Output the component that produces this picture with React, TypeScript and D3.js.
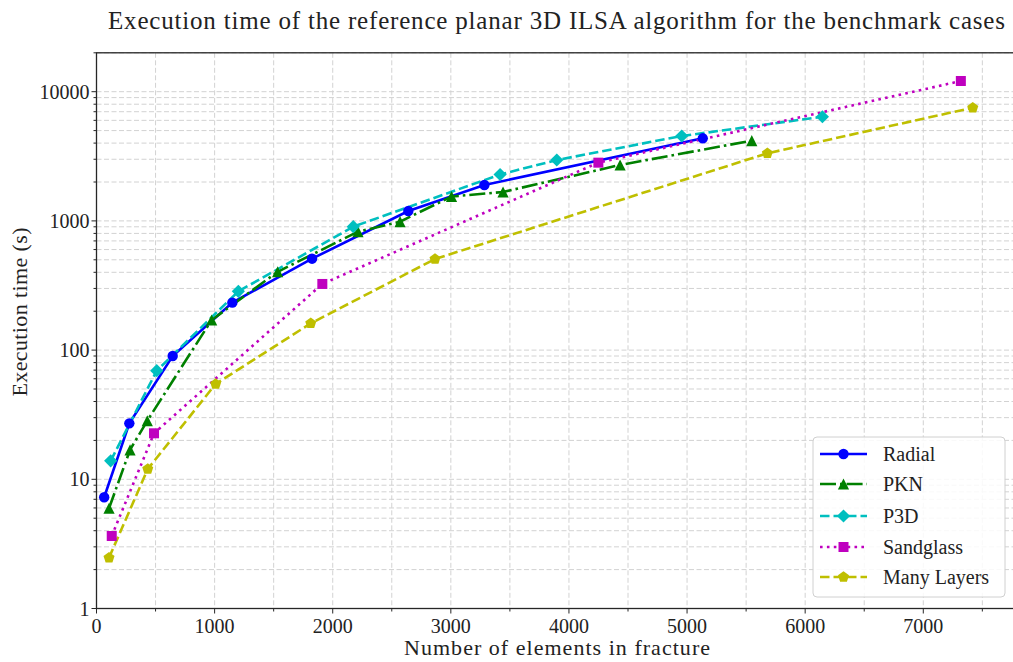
import React from "react";
import * as d3 from "d3";

const radialX = [65, 278, 645, 1150, 1825, 2640, 3284, 5133];
const radialY = [7.26, 27.1, 90, 233, 510, 1193, 1897, 4356];

const pknX = [106, 284, 430, 975, 1534, 2214, 2570, 3006, 3442, 4433, 5548];
const pknY = [5.97, 16.9, 28.4, 171, 404, 825, 986, 1545, 1674, 2709, 4178];

const p3dX = [120, 510, 1201, 2174, 3417, 3897, 4955, 6146];
const p3dY = [13.9, 69.3, 285, 902, 2286, 2960, 4540, 6400];

const sandX = [129, 487, 1912, 4249, 7318];
const sandY = [3.64, 22.7, 325, 2823, 12100];

const manyX = [106, 434, 1009, 1814, 2866, 5680, 7419];
const manyY = [2.47, 12.0, 54.7, 161, 507, 3336, 7516];

const xTicks = [0, 1000, 2000, 3000, 4000, 5000, 6000, 7000];
const yTicks = [1, 10, 100, 1000, 10000];

const seriesNames = ["Radial", "PKN", "P3D", "Sandglass", "Many Layers"];

const W = 1013;
const H = 662;
const M = { left: 96.5, top: 52.8, right: 1016, bottom: 608.5 };

const FONT = "'Liberation Serif', 'Times New Roman', serif";

type Series = {
  name: string;
  xs: number[];
  ys: number[];
  color: string;
  dash: string;
  marker: "circle" | "triangle" | "diamond" | "square" | "pentagon";
};

const series: Series[] = [
  { name: seriesNames[0], xs: radialX, ys: radialY, color: "#0000ff", dash: "none", marker: "circle" },
  { name: seriesNames[1], xs: pknX, ys: pknY, color: "#008000", dash: "16,4,2.6,4", marker: "triangle" },
  { name: seriesNames[2], xs: p3dX, ys: p3dY, color: "#00bfbf", dash: "9.5,4", marker: "diamond" },
  { name: seriesNames[3], xs: sandX, ys: sandY, color: "#bf00bf", dash: "2.6,4.3", marker: "square" },
  { name: seriesNames[4], xs: manyX, ys: manyY, color: "#bfbf00", dash: "9.5,4", marker: "pentagon" },
];

function Marker({ kind, x, y, color }: { kind: Series["marker"]; x: number; y: number; color: string }) {
  const r = 5.2;
  if (kind === "circle") return <circle cx={x} cy={y} r={r} fill={color} />;
  if (kind === "square") return <rect x={x - 5} y={y - 5} width={10} height={10} fill={color} />;
  if (kind === "diamond") {
    const s = 6.6;
    return <path d={`M${x},${y - s}L${x + s},${y}L${x},${y + s}L${x - s},${y}Z`} fill={color} />;
  }
  if (kind === "triangle") {
    const s = 5.6;
    return <path d={`M${x},${y - s}L${x + s},${y + s}L${x - s},${y + s}Z`} fill={color} />;
  }
  const pts: string[] = [];
  const s = 5.8;
  for (let i = 0; i < 5; i++) {
    const a = -Math.PI / 2 + (i * 2 * Math.PI) / 5;
    pts.push(`${x + s * Math.cos(a)},${y + s * Math.sin(a)}`);
  }
  return <path d={`M${pts.join("L")}Z`} fill={color} />;
}

export default function App() {
  const x = d3.scaleLinear().domain([0, 7785]).range([M.left, M.right]);
  const y = d3.scaleLog().domain([1, 20000]).range([M.bottom, M.top]);

  const xGrid = d3.range(0, 7785, 500);
  const yMinor: number[] = [];
  for (let d = 1; d <= 10000; d *= 10) {
    for (let k = 2; k <= 9; k++) if (d * k <= 20000) yMinor.push(d * k);
  }

  const line = d3
    .line<[number, number]>()
    .x((d) => x(d[0]))
    .y((d) => y(d[1]));

  const legendX = 813;
  const legendY = 437;
  const legendRowY = [454, 484, 516, 547, 577];

  return (
    <svg
      width={W}
      height={H}
      style={{ position: "absolute", left: 0, top: 0, display: "block", background: "#fff" }}
      fontFamily={FONT}
    >
      <rect x={0} y={0} width={W} height={H} fill="#fff" />
      <defs>
        <clipPath id="plotclip">
          <rect x={M.left} y={M.top} width={M.right - M.left} height={M.bottom - M.top} />
        </clipPath>
      </defs>
      <g stroke="#d2d2d2" strokeWidth={1} strokeDasharray="5,2.5" fill="none">
        {xGrid.map((v) => (
          <line key={"gx" + v} x1={x(v)} x2={x(v)} y1={M.top} y2={M.bottom} />
        ))}
        {yTicks.concat(yMinor).map((v) => (
          <line key={"gy" + v} x1={M.left} x2={M.right} y1={y(v)} y2={y(v)} />
        ))}
      </g>
      <g clipPath="url(#plotclip)">
        {series.map((s) => (
          <path
            key={s.name}
            d={line(s.xs.map((v, i) => [v, s.ys[i]] as [number, number])) || ""}
            fill="none"
            stroke={s.color}
            strokeWidth={2.6}
            strokeDasharray={s.dash}
          />
        ))}
        {series.map((s) =>
          s.xs.map((v, i) => (
            <Marker key={s.name + i} kind={s.marker} x={x(v)} y={y(s.ys[i])} color={s.color} />
          ))
        )}
      </g>
      <rect
        x={M.left}
        y={M.top}
        width={M.right - M.left}
        height={M.bottom - M.top}
        fill="none"
        stroke="#262626"
        strokeWidth={1.3}
      />
      <g stroke="#262626" strokeWidth={1}>
        {xGrid.map((v) => (
          <line
            key={"xt" + v}
            x1={x(v)}
            x2={x(v)}
            y1={M.bottom}
            y2={M.bottom + (v % 1000 === 0 ? 5 : 3)}
          />
        ))}
        {yTicks.map((v) => (
          <line key={"yt" + v} x1={M.left - 5} x2={M.left} y1={y(v)} y2={y(v)} />
        ))}
        {yMinor.map((v) => (
          <line key={"ym" + v} x1={M.left - 3} x2={M.left} y1={y(v)} y2={y(v)} />
        ))}
      </g>
      <g fontSize={20} fill="#222">
        {xTicks.map((v) => (
          <text key={"xl" + v} x={x(v)} y={M.bottom + 24} textAnchor="middle">
            {v}
          </text>
        ))}
        {yTicks.map((v) => (
          <text key={"yl" + v} x={M.left - 7} y={y(v) + 7} textAnchor="end">
            {v}
          </text>
        ))}
      </g>
      <text x={557} y={655} textAnchor="middle" fontSize={22} fill="#222" textLength={306} lengthAdjust="spacing">
        Number of elements in fracture
      </text>
      <text
        transform="translate(27,312) rotate(-90)"
        textAnchor="middle"
        fontSize={22}
        fill="#222"
        textLength={169}
        lengthAdjust="spacing"
      >
        Execution time (s)
      </text>
      <text x={556.5} y={29} textAnchor="middle" fontSize={25} fill="#222" textLength={897} lengthAdjust="spacing">
        Execution time of the reference planar 3D ILSA algorithm for the benchmark cases
      </text>
      <rect
        x={legendX}
        y={legendY}
        width={192}
        height={160}
        rx={4}
        fill="#fff"
        fillOpacity={0.85}
        stroke="#d0d0d0"
        strokeWidth={1}
      />
      {series.map((s, i) => (
        <g key={"lg" + s.name}>
          <line
            x1={820}
            x2={867}
            y1={legendRowY[i]}
            y2={legendRowY[i]}
            stroke={s.color}
            strokeWidth={2.6}
            strokeDasharray={s.dash}
          />
          <Marker kind={s.marker} x={843.5} y={legendRowY[i]} color={s.color} />
          <text x={883} y={legendRowY[i] + 7} fontSize={20} fill="#222">
            {s.name}
          </text>
        </g>
      ))}
    </svg>
  );
}
